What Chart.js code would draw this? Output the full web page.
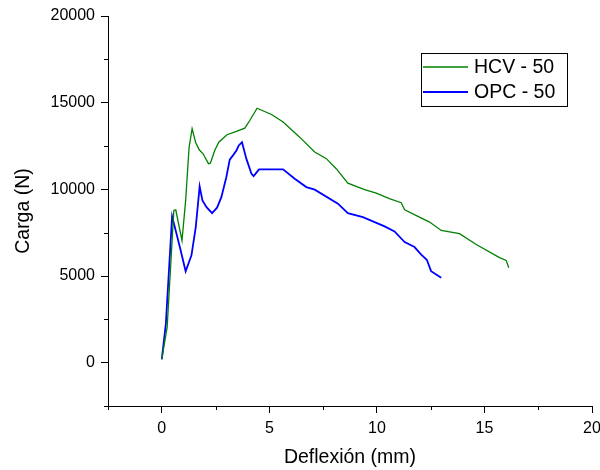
<!DOCTYPE html>
<html>
<head>
  <title>Carga vs Deflexión</title>
  <script src="https://cdn.jsdelivr.net/npm/chart.js"></script>
  <style>
    body {
      margin: 0;
      background: white;
    }

    #wrap {
      width: 600px;
      height: 470px;
    }
  </style>
</head>
<body>
  <div id="wrap"><canvas id="chart" width="600" height="470"></canvas></div>

  <script>
    // values
    const hcvX = [0, 0.25, 0.56, 0.65, 0.94, 1.11, 1.27, 1.41, 1.57, 1.74, 1.92, 2.17, 2.26, 2.46, 2.65, 3.03, 3.47, 3.86, 4.09, 4.43, 5.10, 5.64, 6.41, 7.11, 7.65, 8.11, 8.65, 9.43, 9.97, 10.58, 11.13, 11.29, 11.98, 12.45, 12.99, 13.84, 14.62, 15.70, 16.01, 16.13];
    const hcvY = [200, 2050, 8780, 8820, 7050, 9360, 12430, 13500, 12720, 12280, 12050, 11480, 11510, 12240, 12720, 13150, 13340, 13530, 13970, 14680, 14320, 13880, 13010, 12150, 11770, 11190, 10360, 9980, 9780, 9460, 9230, 8820, 8400, 8110, 7630, 7440, 6820, 6060, 5900, 5480];

    const opcX = [0, 0.19, 0.48, 0.84, 1.11, 1.38, 1.58, 1.76, 1.89, 2.08, 2.34, 2.57, 2.77, 3.00, 3.16, 3.31, 3.47, 3.58, 3.73, 3.93, 4.17, 4.27, 4.52, 5.64, 6.18, 6.72, 7.11, 8.19, 8.65, 9.35, 10.36, 10.82, 11.29, 11.75, 12.06, 12.32, 12.52, 12.99];
    const opcY = [190, 2250, 8440, 6670, 5270, 6190, 7820, 10170, 9360, 8970, 8630, 8940, 9550, 10700, 11710, 11960, 12240, 12530, 12720, 11770, 10900, 10760, 11150, 11150, 10610, 10130, 9980, 9170, 8630, 8400, 7860, 7570, 6960, 6670, 6230, 5940, 5280, 4900];

    const seriesNames = ["HCV - 50", "OPC - 50"];
    const xTicks = [-2.5, 0, 2.5, 5, 7.5, 10, 12.5, 15, 17.5, 20];
    const yTicks = [-2500, 0, 2500, 5000, 7500, 10000, 12500, 15000, 17500, 20000];

    const FONT = "'Liberation Sans', Arial, sans-serif";

    function pts(xs, ys) {
      return xs.map((x, i) => ({ x: x, y: ys[i] }));
    }

    const isMajorX = v => v % 5 === 0;
    const isMajorY = v => v % 5000 === 0;

    // short ticks between the labelled ones
    const minorTicks = {
      id: "minorTicks",
      afterDraw(chart) {
        const ctx = chart.ctx;
        const xs = chart.scales.x, ys = chart.scales.y;
        const area = chart.chartArea;
        ctx.save();
        ctx.strokeStyle = "#000";
        ctx.lineWidth = 1;
        ctx.beginPath();
        xTicks.filter(v => !isMajorX(v)).forEach(v => {
          const px = Math.round(xs.getPixelForValue(v)) + 0.5;
          ctx.moveTo(px, area.bottom);
          ctx.lineTo(px, area.bottom + 4);
        });
        yTicks.filter(v => !isMajorY(v)).forEach(v => {
          const py = Math.round(ys.getPixelForValue(v)) + 0.5;
          ctx.moveTo(area.left, py);
          ctx.lineTo(area.left - 4, py);
        });
        ctx.stroke();
        ctx.restore();
      }
    };

    // boxed legend in the upper right
    const boxLegend = {
      id: "boxLegend",
      afterDraw(chart) {
        const ctx = chart.ctx;
        const left = 421, top = 53, w = 146, h = 53;
        ctx.save();
        ctx.fillStyle = "#fff";
        ctx.fillRect(left, top, w, h);
        ctx.strokeStyle = "#000";
        ctx.lineWidth = 1;
        ctx.strokeRect(left + 0.5, top + 0.5, w, h);
        ctx.font = "19.5px " + FONT;
        ctx.textBaseline = "middle";
        chart.data.datasets.forEach((ds, i) => {
          const y = top + 14 + i * 25;
          ctx.strokeStyle = ds.borderColor;
          ctx.lineWidth = ds.borderWidth;
          ctx.beginPath();
          ctx.moveTo(left + 2, y);
          ctx.lineTo(left + 47, y);
          ctx.stroke();
          ctx.fillStyle = "#000";
          ctx.fillText(ds.label, left + 53, y + 1);
        });
        ctx.restore();
      }
    };

    new Chart(document.getElementById("chart"), {
      type: "line",
      data: {
        datasets: [
          {
            label: seriesNames[0],
            data: pts(hcvX, hcvY),
            borderColor: "#008000",
            borderWidth: 1.3,
            pointRadius: 0,
            tension: 0,
            fill: false
          },
          {
            label: seriesNames[1],
            data: pts(opcX, opcY),
            borderColor: "#0000ff",
            borderWidth: 1.8,
            pointRadius: 0,
            tension: 0,
            fill: false
          }
        ]
      },
      options: {
        responsive: false,
        animation: false,
        layout: { padding: { top: 16, right: 8, left: 0, bottom: 0 } },
        plugins: {
          legend: { display: false },
          tooltip: { enabled: false }
        },
        scales: {
          x: {
            type: "linear",
            min: -2.5,
            max: 20,
            afterBuildTicks: s => { s.ticks = xTicks.map(v => ({ value: v })); },
            afterFit: s => { s.height = 64; s.paddingRight = 0; s.paddingLeft = 0; },
            ticks: {
              autoSkip: false,
              maxRotation: 0,
              padding: 6,
              color: "#000",
              font: { family: FONT, size: 16 },
              callback: v => isMajorX(v) ? String(v) : ""
            },
            grid: {
              drawOnChartArea: false,
              tickLength: 7,
              tickColor: c => isMajorX(c.tick.value) ? "#000" : "rgba(0,0,0,0)"
            },
            border: { display: true, color: "#000", width: 1 },
            title: {
              display: true,
              text: "Deflexión (mm)",
              color: "#000",
              font: { family: FONT, size: 19.5, lineHeight: 1 },
              padding: { top: 0, bottom: 3 }
            }
          },
          y: {
            type: "linear",
            min: -2500,
            max: 20000,
            afterBuildTicks: s => { s.ticks = yTicks.map(v => ({ value: v })); },
            afterFit: s => { s.width = 108; s.paddingTop = 0; s.paddingBottom = 0; },
            ticks: {
              autoSkip: false,
              padding: 6,
              color: "#000",
              font: { family: FONT, size: 16 },
              callback: v => isMajorY(v) ? String(v) : ""
            },
            grid: {
              drawOnChartArea: false,
              tickLength: 7,
              tickColor: c => isMajorY(c.tick.value) ? "#000" : "rgba(0,0,0,0)"
            },
            border: { display: true, color: "#000", width: 1 },
            title: {
              display: true,
              text: "Carga (N)",
              color: "#000",
              font: { family: FONT, size: 19.5, lineHeight: 1 },
              padding: { top: 14, bottom: 0 }
            }
          }
        }
      },
      plugins: [minorTicks, boxLegend]
    });
  </script>
</body>
</html>
